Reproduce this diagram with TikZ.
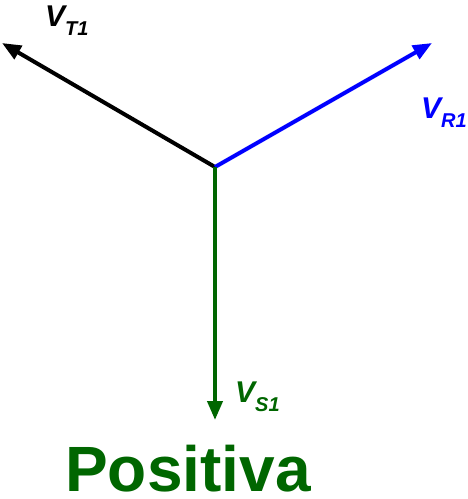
\documentclass[tikz,border=0pt]{standalone}
\usepackage{fontspec}
\setmainfont{Liberation Sans}
\usetikzlibrary{arrows.meta, positioning}

\definecolor{phaseGreen}{RGB}{0,102,0}
\definecolor{phaseBlue}{RGB}{0,0,255}

\newcommand{\phasor}[2]{\fontsize{30}{32}\selectfont\bfseries\itshape #1\raisebox{-9pt}{\fontsize{20}{22}\selectfont #2}}

\begin{document}
\begin{tikzpicture}[
    x=1pt, y=-1pt,
    vec/.style={
        draw,
        line width=4pt,
        -{Triangle[length=19pt, width=15pt]}
    },
    lbl/.style={
        anchor=base west,
        inner sep=0pt
    },
    title/.style={
        anchor=base,
        inner sep=0pt,
        text depth=0pt,
        font=\fontsize{64}{70}\selectfont\bfseries,
        text=phaseGreen
    }
]
\useasboundingbox (0,0) rectangle (468,499);

% --- Phasor origin and tips ---
\coordinate (o) at (215,167);
\coordinate (tipT) at (2,43);
\coordinate (tipR) at (432,43);
\coordinate (tipS) at (215,420);

% --- Phasors ---
\draw[vec, color=black] (o) -- (tipT);
\draw[vec, color=phaseBlue] (o) -- (tipR);
\draw[vec, color=phaseGreen] (o) -- (tipS);

% --- Labels ---
\node[lbl, text=black] (vt) at (45,26) {\phasor{V}{T1}};
\node[lbl, text=phaseBlue] (vr) at (421,118) {\phasor{V}{R1}};
\node[lbl, text=phaseGreen] (vs) at (235,402) {\phasor{V}{S1}};

% --- Sequence name ---
\node[title] (seq) at (188,491) {Positiva};

\end{tikzpicture}
\end{document}
